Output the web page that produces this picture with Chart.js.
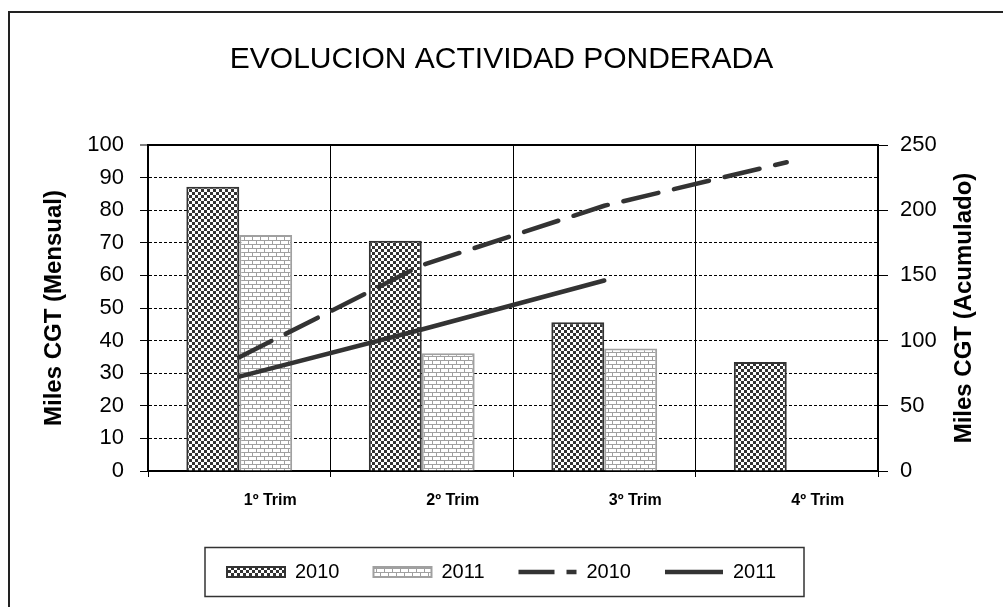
<!DOCTYPE html>
<html lang="es">
<head>
    <meta charset="UTF-8">
    <title>Evolucion Actividad Ponderada</title>
    <script src="https://cdn.jsdelivr.net/npm/chart.js"></script>
    <style>
        html, body { margin: 0; padding: 0; background: #fff; }
        #wrap { width: 1003px; height: 607px; }
    </style>
</head>
<body>
    <div id="wrap"><canvas id="chart"></canvas></div>

    <script>
        // datos
        const trimestres = ['1º Trim', '2º Trim', '3º Trim', '4º Trim'];
        const mensual2010 = [87.2, 70.6, 45.6, 33.4];
        const mensual2011 = [72.4, 36.1, 37.6, null];
        const acumulado2010 = [87.2, 157.8, 203.4, 236.8];
        const acumulado2011 = [72.4, 108.5, 146.1, null];
        const ticksMensual = { min: 0, max: 100, step: 10 };
        const ticksAcumulado = { min: 0, max: 250, step: 50 };

        const FONT = "'Liberation Sans', Arial, sans-serif";

        function checkerPattern() {
            const c = document.createElement('canvas');
            c.width = 6; c.height = 6;
            const g = c.getContext('2d');
            g.fillStyle = '#fff';
            g.fillRect(0, 0, 6, 6);
            g.fillStyle = '#333';
            g.fillRect(0, 0, 3, 3);
            g.fillRect(3, 3, 3, 3);
            return g.createPattern(c, 'repeat');
        }

        function brickPattern() {
            const c = document.createElement('canvas');
            c.width = 8; c.height = 8;
            const g = c.getContext('2d');
            g.fillStyle = '#fff';
            g.fillRect(0, 0, 8, 8);
            g.fillStyle = '#a0a0a0';
            g.fillRect(0, 0, 8, 1);
            g.fillRect(0, 4, 8, 1);
            g.fillRect(0, 0, 1, 4);
            g.fillRect(4, 4, 1, 4);
            return g.createPattern(c, 'repeat');
        }

        // marco exterior, caja de la leyenda y titulo del eje derecho
        const extras = {
            id: 'extras',
            beforeDraw(chart) {
                const ctx = chart.ctx;
                ctx.save();
                ctx.fillStyle = '#fff';
                ctx.fillRect(0, 0, chart.width, chart.height);
                ctx.strokeStyle = '#222';
                ctx.lineWidth = 2;
                ctx.beginPath();
                ctx.moveTo(9, chart.height);
                ctx.lineTo(9, 12);
                ctx.lineTo(chart.width, 12);
                ctx.stroke();
                ctx.restore();
            },
            afterDraw(chart) {
                const ctx = chart.ctx;
                const boxes = chart.legend.legendHitBoxes;
                if (boxes && boxes.length) {
                    const l = Math.min(...boxes.map(b => b.left)) - 22;
                    const r = Math.max(...boxes.map(b => b.left + b.width)) + 28;
                    const cy = boxes[0].top + boxes[0].height / 2;
                    ctx.save();
                    ctx.strokeStyle = '#333';
                    ctx.lineWidth = 1.5;
                    ctx.strokeRect(l, cy - 24.5, r - l, 49);
                    ctx.restore();
                }
                const y1 = chart.scales.y1;
                ctx.save();
                ctx.translate(964, (y1.top + y1.bottom) / 2);
                ctx.rotate(-Math.PI / 2);
                ctx.font = 'bold 24px ' + FONT;
                ctx.fillStyle = '#000';
                ctx.textAlign = 'center';
                ctx.textBaseline = 'middle';
                ctx.fillText('Miles CGT (Acumulado)', 0, 0);
                ctx.restore();
            }
        };

        const ctx = document.getElementById('chart').getContext('2d');
        new Chart(ctx, {
            type: 'bar',
            data: {
                labels: trimestres,
                datasets: [
                    {
                        label: '2010',
                        data: mensual2010,
                        backgroundColor: checkerPattern(),
                        borderColor: '#333',
                        borderWidth: 2,
                        yAxisID: 'y',
                        order: 3
                    },
                    {
                        label: '2011',
                        data: mensual2011,
                        backgroundColor: brickPattern(),
                        borderColor: '#a0a0a0',
                        borderWidth: 2,
                        yAxisID: 'y',
                        order: 4
                    },
                    {
                        type: 'line',
                        label: '2010',
                        data: acumulado2010,
                        borderColor: '#333',
                        backgroundColor: '#333',
                        borderWidth: 4.5,
                        borderDash: [36, 16],
                        borderCapStyle: 'round',
                        pointRadius: 0,
                        tension: 0,
                        fill: false,
                        yAxisID: 'y1',
                        order: 1
                    },
                    {
                        type: 'line',
                        label: '2011',
                        data: acumulado2011,
                        borderColor: '#333',
                        backgroundColor: '#333',
                        borderWidth: 4.5,
                        borderCapStyle: 'round',
                        pointRadius: 0,
                        tension: 0,
                        fill: false,
                        yAxisID: 'y1',
                        order: 2
                    }
                ]
            },
            options: {
                responsive: true,
                maintainAspectRatio: false,
                animation: false,
                layout: { padding: { left: 0, right: 0, top: 0, bottom: 15 } },
                datasets: {
                    bar: { barPercentage: 1, categoryPercentage: 0.58 }
                },
                plugins: {
                    title: {
                        display: true,
                        text: 'EVOLUCION ACTIVIDAD PONDERADA',
                        color: '#000',
                        font: { family: FONT, size: 30, weight: 'normal' },
                        padding: { top: 42, bottom: 67 }
                    },
                    legend: {
                        position: 'bottom',
                        labels: {
                            usePointStyle: true,
                            pointStyleWidth: 58,
                            boxHeight: 10,
                            padding: 34,
                            color: '#000',
                            font: { family: FONT, size: 20 },
                            sort: (a, b) => a.datasetIndex - b.datasetIndex,
                            generateLabels: chart => Chart.defaults.plugins.legend.labels.generateLabels(chart).map(item => {
                                const ds = chart.data.datasets[item.datasetIndex];
                                item.pointStyle = ds.type === 'line' ? 'line' : 'rect';
                                if (ds.borderDash) item.lineDash = [36, 12];
                                return item;
                            })
                        }
                    },
                    tooltip: { enabled: false }
                },
                scales: {
                    x: {
                        afterFit: s => { s.height = 57; },
                        grid: {
                            color: '#000',
                            lineWidth: 1,
                            offset: true,
                            tickLength: 6,
                            tickColor: '#000'
                        },
                        border: { color: '#000', width: 2 },
                        ticks: {
                            color: '#000',
                            padding: 14,
                            labelOffset: 31,
                            maxRotation: 0,
                            font: { family: FONT, size: 16, weight: 'bold' }
                        }
                    },
                    y: {
                        position: 'left',
                        min: ticksMensual.min,
                        max: ticksMensual.max,
                        afterFit: s => { s.width = 148; },
                        grid: {
                            color: '#000',
                            lineWidth: c => (c.tick && c.tick.value === 100 ? 2 : 1),
                            tickLength: 8,
                            tickColor: '#000',
                            tickWidth: 1
                        },
                        border: {
                            color: '#000',
                            width: 2,
                            dash: c => (c.tick && (c.tick.value === 100 || c.tick.value === 0) ? [] : [3, 2])
                        },
                        ticks: {
                            stepSize: ticksMensual.step,
                            color: '#000',
                            padding: 16,
                            font: { family: FONT, size: 22 }
                        },
                        title: {
                            display: true,
                            text: 'Miles CGT (Mensual)',
                            color: '#000',
                            padding: { top: 40, bottom: 0 },
                            font: { family: FONT, size: 24, weight: 'bold' }
                        }
                    },
                    y1: {
                        position: 'right',
                        min: ticksAcumulado.min,
                        max: ticksAcumulado.max,
                        afterFit: s => { s.width = 125; },
                        grid: {
                            drawOnChartArea: false,
                            color: '#000',
                            tickLength: 10,
                            tickColor: '#000'
                        },
                        border: { color: '#000', width: 2 },
                        ticks: {
                            stepSize: ticksAcumulado.step,
                            color: '#000',
                            padding: 12,
                            font: { family: FONT, size: 22 }
                        }
                    }
                }
            },
            plugins: [extras]
        });
    </script>
</body>
</html>
